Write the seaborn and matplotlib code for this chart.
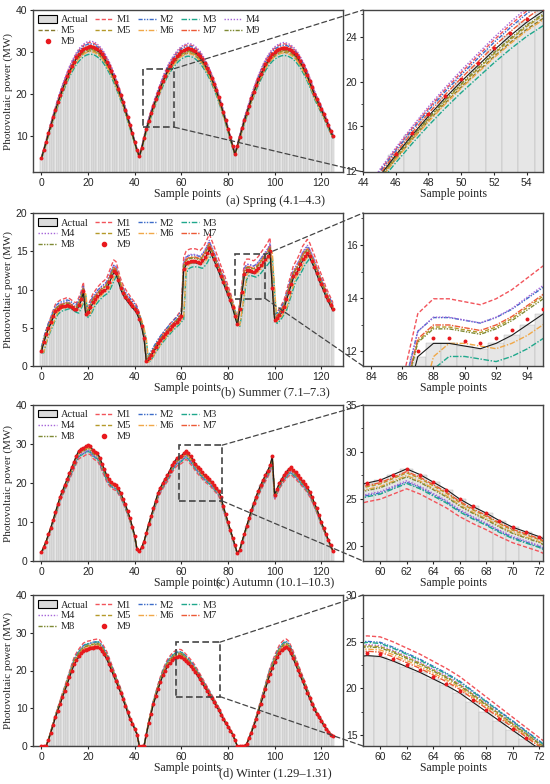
import numpy as np
import seaborn as sns
from matplotlib import pyplot as plt
from matplotlib.lines import Line2D
from matplotlib.patches import Patch, Rectangle, ConnectionPatch
from matplotlib.ticker import AutoMinorLocator

# sample index shared by all seasons
sample_points = np.arange(126)

spring_actual = [
    4.5, 6.5, 8.4, 10.4, 12.3, 14.2, 16.0, 17.8, 19.4, 21.0, 22.5, 23.9, 25.2, 26.4, 27.4, 28.4, 29.2, 29.8, 30.3, 30.7, 30.9, 31.0,
    30.9, 30.7, 30.3, 29.8, 29.2, 28.4, 27.4, 26.4, 25.2, 23.9, 22.5, 21.0, 19.4, 17.8, 16.0, 14.2, 12.3, 10.4, 8.4, 6.5,
    5.0,
    7.0, 9.3, 11.5, 13.4, 15.2, 16.9, 18.5, 20.0, 21.4, 22.8, 24.1, 25.3, 26.3, 27.2, 28.0, 28.7, 29.3, 29.8, 30.1, 30.4, 30.5,
    30.4, 30.2, 29.8, 29.3, 28.7, 27.9, 27.0, 26.0, 24.9, 23.6, 22.2, 20.7, 19.0, 17.3, 15.4, 13.5, 11.5, 9.5, 7.5, 5.5,
    7.5, 9.6, 11.6, 13.5, 15.3, 17.0, 18.7, 20.3, 21.8, 23.2, 24.5, 25.7, 26.8, 27.7, 28.5, 29.2, 29.7, 30.1, 30.4, 30.6, 30.7,
    30.6, 30.4, 30.1, 29.7, 29.1, 28.4, 27.5, 26.5, 25.4, 24.2, 22.8, 21.4, 19.8, 18.6, 17.4, 16.2, 15.0, 13.7, 12.4, 11.0, 9.8,
]
summer_actual = [
    1.8, 3.0, 4.0, 4.8, 5.5, 6.3, 7.0, 7.3, 7.5, 7.6, 7.7, 7.8, 7.7, 7.5, 7.3, 7.2, 7.8, 8.5, 9.6, 6.6,
    6.9, 7.5, 8.2, 8.6, 9.0, 9.3, 9.6, 9.8, 10.1, 10.8, 11.5, 12.2, 12.0, 11.0, 10.0, 9.3, 8.8, 8.4, 8.0, 7.6,
    7.3, 6.8, 6.0, 5.0, 3.5, 0.5, 0.8, 1.3, 1.8, 2.3, 2.8, 3.2, 3.6, 4.0, 4.3, 4.7, 5.0, 5.3, 5.6, 6.0,
    6.3, 12.5, 13.2, 13.4, 13.5, 13.5, 13.5, 13.4, 13.3, 13.6, 14.0, 14.6, 15.2, 14.5, 13.8, 13.0, 12.3, 11.5, 10.8, 10.0,
    9.2, 8.4, 7.5, 6.4, 5.3, 7.2, 9.5, 11.8, 12.3, 12.3, 12.2, 12.1, 12.3, 12.6, 13.0, 13.4, 13.8, 14.2, 14.8, 10.0,
    5.8, 6.1, 6.5, 7.0, 7.5, 8.5, 9.5, 10.5, 11.5, 12.0, 12.5, 13.1, 13.8, 14.2, 14.6, 14.2, 13.5, 12.8, 12.0, 11.2,
    10.5, 9.8, 9.0, 8.4, 7.8, 7.2,
]
autumn_actual = [
    2.2, 3.6, 5.0, 6.8, 8.5, 10.5, 12.5, 14.5, 16.5, 18.0, 19.5, 21.0, 22.5, 24.0, 25.5, 27.0, 28.3, 28.7, 29.0, 29.4,
    29.7, 29.5, 28.5, 28.0, 27.8, 26.5, 25.0, 23.5, 22.0, 21.0, 20.2, 19.8, 19.5, 18.6, 17.5, 16.0, 14.5, 12.8, 11.0, 8.8,
    6.5, 3.0, 2.5, 3.5, 5.0, 7.3, 9.5, 11.5, 13.5, 15.5, 17.5, 18.8, 20.0, 21.0, 22.0, 23.2, 24.5, 25.5, 26.3, 26.7,
    27.0, 27.6, 28.2, 27.6, 26.8, 26.0, 25.0, 24.2, 23.5, 22.7, 22.0, 21.5, 21.0, 20.3, 19.5, 18.8, 18.0, 16.5, 14.0, 12.0,
    10.0, 8.0, 6.0, 4.0, 2.0, 2.8, 5.0, 7.0, 9.0, 11.0, 13.0, 14.8, 16.5, 18.0, 19.5, 20.8, 22.0, 23.2, 24.5, 26.8,
    17.0, 18.5, 20.0, 21.0, 22.0, 22.8, 23.5, 24.0, 23.3, 22.7, 22.0, 21.3, 20.5, 19.8, 19.0, 17.8, 16.5, 15.0, 13.5, 11.8,
    10.0, 8.5, 7.0, 5.5, 4.0, 2.5,
]
winter_actual = [
    0.0, 0.0, 0.0, 1.5, 3.5, 5.5, 7.5, 9.3, 11.0, 12.8, 14.5, 16.3, 18.0, 19.8, 21.5, 22.6, 23.5, 24.3, 25.0, 25.3,
    25.5, 25.6, 25.8, 25.9, 26.0, 25.8, 25.0, 24.0, 23.0, 21.5, 20.0, 18.5, 17.0, 15.5, 14.0, 12.3, 10.5, 8.8, 7.0, 5.8,
    4.5, 3.0, 0.0, 0.0, 0.0, 3.0, 6.0, 8.5, 11.0, 13.0, 15.0, 16.8, 18.5, 19.8, 21.0, 21.8, 22.5, 23.0, 23.3, 23.5,
    23.4, 22.9, 22.3, 21.7, 21.0, 20.3, 19.5, 18.5, 17.5, 16.5, 15.5, 14.5, 13.5, 12.5, 11.5, 10.5, 9.5, 8.2, 7.0, 6.0,
    5.0, 4.0, 3.0, 1.5, 0.0, 0.0, 0.0, 0.0, 0.5, 2.0, 3.5, 5.2, 7.0, 9.0, 11.0, 13.0, 15.0, 17.0, 19.0, 20.5,
    22.0, 23.3, 24.5, 25.2, 25.8, 26.0, 25.5, 24.3, 23.0, 21.5, 20.0, 18.5, 17.0, 15.5, 14.0, 12.5, 11.0, 9.7, 8.5, 7.5,
    6.5, 5.5, 4.5, 3.7, 3.0, 2.5,
]

# model lines read as deviation from the actual curve: scale, offset, lag (samples)
spring_models = ['M1', 'M2', 'M3', 'M4', 'M5x', 'M5', 'M6', 'M7', 'M8', 'M9']
spring_labels = ['M1', 'M2', 'M3', 'M4', 'M5', 'M5', 'M6', 'M7', 'M9', 'M9']
spring_scale = [1.04, 1.03, 0.95, 1.05, 0.975, 0.985, 0.97, 1.015, 0.99, 1.01]
spring_offset = [0, 0, 0, 0, 0, 0, 0, 0, 0, 0]
spring_lag = [0, 0, 0, 0, 0, 0, 0, 0, 0, 0]

other_models = ['M1', 'M2', 'M3', 'M4', 'M5', 'M6', 'M7', 'M8', 'M9']
summer_scale = [1.12, 1.03, 0.96, 1.08, 1.05, 1.0, 1.04, 1.02, 1.0]
summer_offset = [0.2, 0.6, 0.0, 0.0, 0.0, 0.0, 0.2, 0.3, 0.2]
summer_lag = [0, 0, 1, 0, 0, 1, 0, 0, 0]
autumn_scale = [0.925, 0.95, 0.945, 0.955, 0.985, 0.975, 0.99, 0.97, 1.0]
autumn_offset = [0, 0, 0, 0, 0, 0, 0, 0, 0]
autumn_lag = [0, 0, 0, 0, 0, 0, 0, 0, 0]
winter_scale = [1.09, 1.065, 1.06, 1.05, 1.045, 1.03, 1.02, 1.04, 1.01]
winter_offset = [0, 0, 0, 0, 0, 0, 0, 0, 0]
winter_lag = [0, 0, 0, 0, 0, 0, 0, 0, 0]

styles = {
    'M1': dict(color='#f2545b', ls=(0, (3, 1.5))),
    'M2': dict(color='#3d6cc9', ls=(0, (3, 1, 1, 1, 1, 1))),
    'M3': dict(color='#1fa88c', ls=(0, (4, 1.2, 1, 1.2))),
    'M4': dict(color='#a564d8', ls=(0, (1, 1.2))),
    'M5': dict(color='#b59a2a', ls=(0, (3, 1.5))),
    'M5x': dict(color='#857a2c', ls=(0, (3, 1.5))),
    'M6': dict(color='#f0a848', ls=(0, (4, 1.2, 1, 1.2))),
    'M7': dict(color='#ec5a36', ls=(0, (4, 1, 1, 1))),
    'M8': dict(color='#7f8a34', ls=(0, (3, 1, 1, 1, 1, 1))),
}
m9_color = '#e8191e'

seasons = [
    dict(actual=spring_actual, models=spring_models, labels=spring_labels, scale=spring_scale,
         offset=spring_offset, lag=spring_lag, ncol=5, ylim=(1.3, 40), yticks=[10, 20, 30, 40],
         rect=(43.5, 12, 57, 26), zx=(44, 55), zy=(11.9, 26.4), zxt=range(44, 55, 2), zyt=[12, 16, 20, 24],
         caption='(a) Spring (4.1\u20134.3)'),
    dict(actual=summer_actual, models=other_models, labels=other_models, scale=summer_scale,
         offset=summer_offset, lag=summer_lag, ncol=4, ylim=(0, 20), yticks=[0, 5, 10, 15, 20],
         rect=(83, 8.8, 96, 14.6), zx=(83.5, 95), zy=(11.45, 17.2), zxt=range(84, 95, 2), zyt=[12, 14, 16],
         caption='(b) Summer (7.1\u20137.3)'),
    dict(actual=autumn_actual, models=other_models, labels=other_models, scale=autumn_scale,
         offset=autumn_offset, lag=autumn_lag, ncol=4, ylim=(0, 40), yticks=[0, 10, 20, 30, 40],
         rect=(59, 15.4, 77.5, 29.7), zx=(58.7, 72.3), zy=(18.4, 35), zxt=range(60, 73, 2), zyt=[20, 25, 30, 35],
         caption='(c) Autumn (10.1\u201310.3)'),
    dict(actual=winter_actual, models=other_models, labels=other_models, scale=winter_scale,
         offset=winter_offset, lag=winter_lag, ncol=4, ylim=(0, 40), yticks=[0, 10, 20, 30, 40],
         rect=(57.5, 13.1, 76.5, 27.5), zx=(58.7, 72.3), zy=(13.8, 30), zxt=range(60, 73, 2), zyt=[15, 20, 25, 30],
         caption='(d) Winter (1.29\u20131.31)'),
]

# rows in pixels (top, bottom) and caption heights
W, H = 550, 784
rows_px = [(10, 172), (213, 366), (405, 561), (595, 746)]
caption_px = [201, 392, 583, 773]

sns.set_theme(style='ticks')
plt.rcParams['font.family'] = ['Liberation Serif', 'DejaVu Serif']
plt.rcParams['axes.edgecolor'] = '#444444'
plt.rcParams['axes.linewidth'] = 1.0


def model_series(actual, scale, offset, lag):
    actual = np.asarray(actual, dtype=float)
    if lag:
        actual = np.concatenate([np.repeat(actual[0], lag), actual[:-lag]])
    return np.clip(actual * scale + offset, 0, None)


def draw_panel(ax, season, xs):
    actual = np.asarray(season['actual'])
    sns.barplot(x=xs, y=actual, native_scale=True, ax=ax, color='#e6e6e6', saturation=1,
                edgecolor='#b0b0b0', linewidth=0.3, width=1, errorbar=None)
    for name, sc, off, lag in zip(season['models'], season['scale'], season['offset'], season['lag']):
        y = model_series(actual, sc, off, lag)
        if name == 'M9':
            continue
        st = styles[name]
        sns.lineplot(x=xs, y=y, ax=ax, color=st['color'], linestyle=st['ls'], lw=1.0, errorbar=None)
    sns.lineplot(x=xs, y=actual, ax=ax, color='#1a1a1a', lw=0.8, errorbar=None)
    i9 = len(season['models']) - 1
    y9 = model_series(actual, season['scale'][i9], season['offset'][i9], season['lag'][i9])
    sns.scatterplot(x=xs, y=y9, ax=ax, color=m9_color, s=8, linewidth=0, zorder=5)


def legend_handles(season):
    handles = [Patch(facecolor='#dcdcdc', edgecolor='black', linewidth=0.8)]
    for name in season['models']:
        if name == 'M9':
            handles.append(Line2D([], [], color=m9_color, marker='o', ms=3, lw=0))
        else:
            st = styles[name]
            handles.append(Line2D([], [], color=st['color'], linestyle=st['ls'], lw=1.0))
    labels = ['Actual'] + list(season['labels'])
    # legend fills column by column, so reorder to read row by row
    ncol = season['ncol']
    n = len(handles)
    order = [r * ncol + c for c in range(ncol) for r in range((n + ncol - 1) // ncol) if r * ncol + c < n]
    return [handles[i] for i in order], [labels[i] for i in order]


def style_axes(ax):
    ax.tick_params(direction='out', length=2.5, width=0.8, labelsize=7.5, pad=1.5, top=False, right=False)
    for t in ax.get_yticklabels() + ax.get_xticklabels():
        t.set_family('Liberation Sans')
    for s in ax.spines.values():
        s.set_visible(True)
        s.set_color('#444444')
        s.set_linewidth(1.0)


fig = plt.figure(figsize=(W / 100, H / 100), dpi=100)

for season, (top, bot), cap_y in zip(seasons, rows_px, caption_px):
    b = 1 - bot / H
    h = (bot - top) / H
    ax = fig.add_axes([33 / W, b, (343 - 33) / W, h])
    axz = fig.add_axes([363 / W, b, (543 - 363) / W, h])

    draw_panel(ax, season, sample_points)
    ax.set_xlim(-3.6, 129.3)
    ax.set_ylim(*season['ylim'])
    ax.set_xticks(range(0, 121, 20))
    ax.set_yticks(season['yticks'])
    ax.set_xlabel('Sample points', fontsize=8.5, labelpad=0)
    ax.set_ylabel('Photovoltaic power (MW)', fontsize=8, labelpad=2)
    style_axes(ax)

    hs, ls = legend_handles(season)
    ax.legend(hs, ls, loc='upper left', ncol=season['ncol'], frameon=False, fontsize=7.5,
              handlelength=1.8, handletextpad=0.35, columnspacing=0.6, labelspacing=0.15,
              borderaxespad=0.3, borderpad=0.2)

    x0, y0, x1, y1 = season['rect']
    ax.add_patch(Rectangle((x0, y0), x1 - x0, y1 - y0, fill=False, edgecolor='#444444',
                           linewidth=1.2, linestyle=(0, (4, 2)), zorder=6))

    draw_panel(axz, season, sample_points)
    axz.set_xlim(*season['zx'])
    axz.set_ylim(*season['zy'])
    axz.set_xticks(list(season['zxt']))
    axz.set_yticks(season['zyt'])
    axz.yaxis.set_minor_locator(AutoMinorLocator(2))
    axz.tick_params(which='minor', direction='out', length=1.5, width=0.6)
    axz.set_xlabel('Sample points', fontsize=8.5, labelpad=0)
    axz.set_ylabel('')
    style_axes(axz)

    for ya, yb in [(y1, 1), (y0, 0)]:
        con = ConnectionPatch(xyA=(x1, ya), coordsA=ax.transData, xyB=(0, yb), coordsB=axz.transAxes,
                              color='#444444', linewidth=0.9, linestyle=(0, (4, 2.5)))
        fig.add_artist(con)

    fig.text(0.5, 1 - cap_y / H, season['caption'], ha='center', va='center', fontsize=9)

fig.savefig('out.png', dpi=100)
